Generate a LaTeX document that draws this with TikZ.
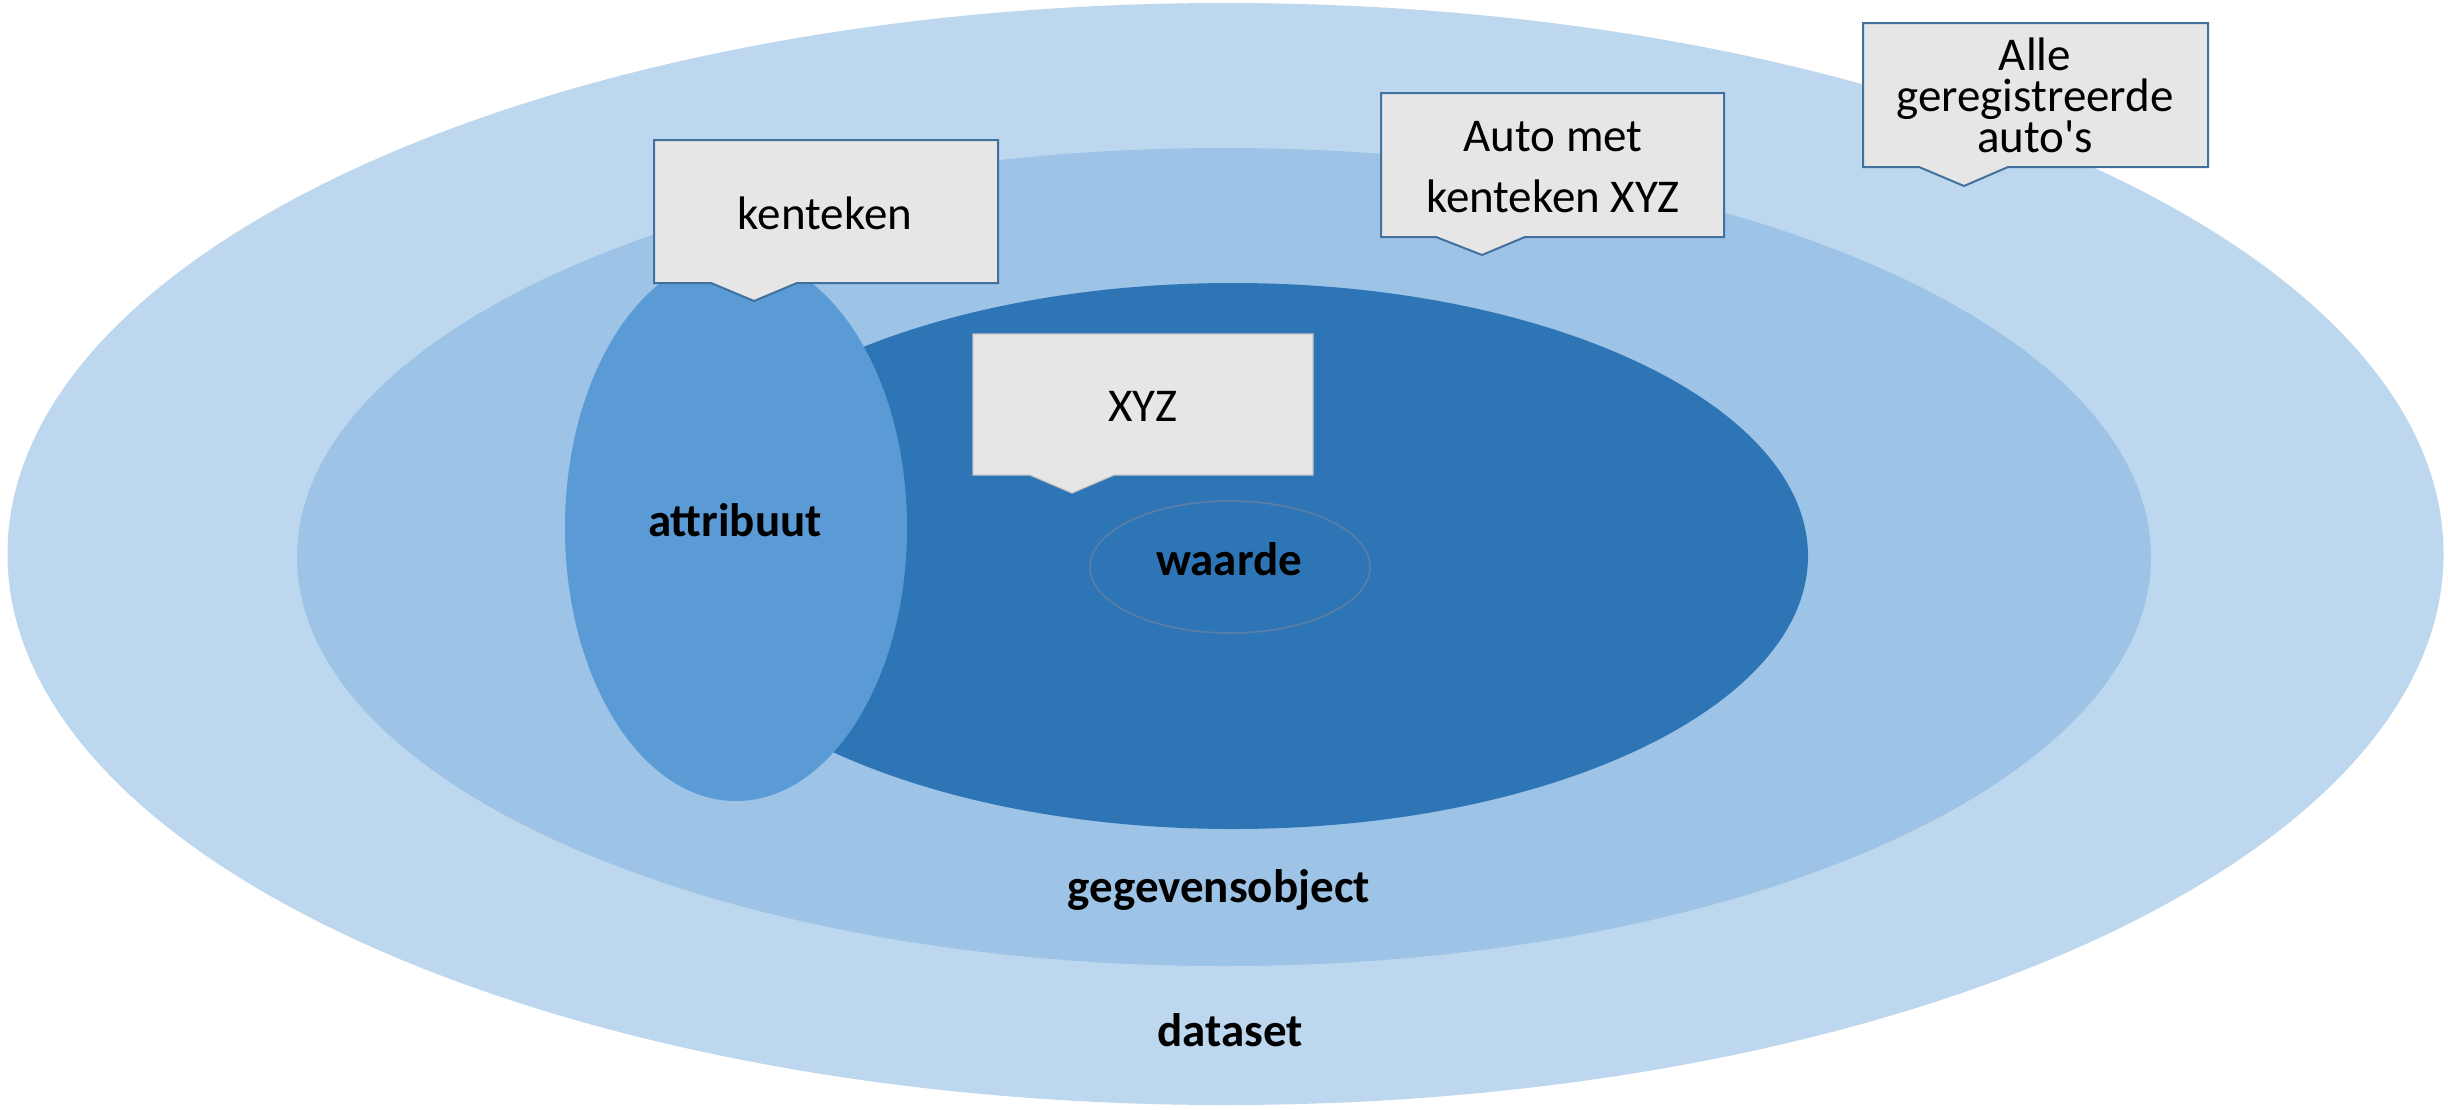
\documentclass[tikz,border=0pt]{standalone}
\usepackage{fontspec}
\setmainfont{Carlito}
\definecolor{setblue}{HTML}{BDD7EE}
\definecolor{objblue}{HTML}{9DC3E6}
\definecolor{valblue}{HTML}{2E75B6}
\definecolor{attrblue}{HTML}{5B9BD5}
\definecolor{notefill}{HTML}{E6E6E6}
\definecolor{noteline}{HTML}{41719C}
\definecolor{ringline}{HTML}{5A7FA6}
\tikzset{
  lbl/.style={font=\fontsize{23.5}{29}\selectfont\bfseries, text=black, inner sep=0pt},
  notetext/.style={font=\fontsize{23.5}{30.5}\selectfont, text=black, align=center, inner sep=0pt},
  notebox/.style={fill=notefill, draw=noteline, line width=1pt, line join=miter},
}
\begin{document}
\begin{tikzpicture}[x=0.5pt, y=-0.5pt]
\useasboundingbox[fill=white] (0,0) rectangle (2448,1109);

% nested sets
\fill[setblue] (1225.5,554) ellipse [x radius=1218, y radius=551];
\fill[objblue] (1224,557) ellipse [x radius=927, y radius=409];
\fill[valblue] (1233,556) ellipse [x radius=575, y radius=273];
\draw[ringline, line width=0.8pt] (1230,567) ellipse [x radius=140, y radius=66];
\fill[attrblue] (736,528) ellipse [x radius=171, y radius=273];

% set labels
\node[lbl] (attribuut) at (735,520) {attribuut};
\node[lbl] (waarde) at (1229,559) {waarde};
\node[lbl] (gegevensobject) at (1219,890) {gegevensobject};
\node[lbl] (dataset) at (1230,1030) {dataset};

% callouts
\draw[notebox] (654,140) -- (998,140) -- (998,283) -- (797,283) -- (754,301)
  -- (711,283) -- (654,283) -- cycle;
\node[notetext] (kenteken) at (825,213) {kenteken};

\draw[notebox, draw=gray!45, line width=0.6pt] (973,334) -- (1313,334) -- (1313,475)
  -- (1114,475) -- (1072,493) -- (1030,475) -- (973,475) -- cycle;
\node[notetext] (xyz) at (1143,406) {XYZ};

\draw[notebox] (1381,93) -- (1724,93) -- (1724,237) -- (1525,237) -- (1482,255)
  -- (1436,237) -- (1381,237) -- cycle;
\node[notetext] (auto) at (1553,167) {Auto met\\kenteken XYZ};

\draw[notebox] (1863,23) -- (2208,23) -- (2208,167) -- (2008,167) -- (1964,186)
  -- (1919,167) -- (1863,167) -- cycle;
\node[notetext, font=\fontsize{23.5}{20.5}\selectfont] (alle) at (2035,95)
  {Alle\\geregistreerde\\auto\textquotesingle s};
\end{tikzpicture}
\end{document}
